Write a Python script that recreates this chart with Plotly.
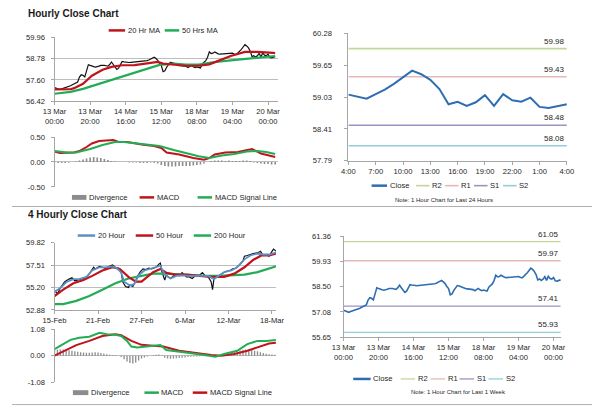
import plotly.graph_objects as go

W, H = 600, 413
FONT = "Liberation Sans, Arial, sans-serif"

# ======================= DATA =======================
# --- Hourly (13 Mar 00:00 -> 20 Mar 04:00), 1 bar per hour ---
HOURLY_TICK_POS = [0, 20, 40, 60, 80, 100, 120]
HOURLY_TICK_TEXT = ["13 Mar<br>00:00", "13 Mar<br>20:00", "14 Mar<br>16:00", "15 Mar<br>12:00",
                    "18 Mar<br>08:00", "19 Mar<br>04:00", "20 Mar<br>00:00"]
hourly_close = [
    57.17, 57.12, 57.08, 57.06, 57.10, 57.13, 57.17, 57.20, 57.23, 57.27,
    57.33, 57.39, 57.44, 57.48, 57.75, 57.88, 57.85, 57.76, 58.10, 58.44,
    58.40, 58.35, 58.33, 58.31, 58.32, 58.36, 58.40, 58.42, 58.40, 58.38,
    58.36, 58.45, 58.59, 58.45, 58.33, 58.18, 58.25, 58.40, 58.62, 58.60,
    58.58, 58.57, 58.56, 58.57, 58.58, 58.59, 58.58, 58.60, 58.61, 58.61,
    58.63, 58.65, 58.67, 58.70, 58.75, 58.80, 58.86, 58.78, 58.68, 58.52,
    58.40, 58.05, 58.10, 58.30, 58.45, 58.57, 58.55, 58.50, 58.46, 58.42,
    58.39, 58.38, 58.37, 58.36, 58.34, 58.28, 58.36, 58.41, 58.33, 58.28,
    58.32, 58.30, 58.26, 58.48, 58.58, 58.66, 58.85, 59.15, 59.06, 59.08,
    59.15, 59.08, 59.04, 59.02, 59.03, 59.04, 59.05, 59.06, 59.08, 59.10,
    59.08, 59.035, 59.00, 59.09, 59.18, 59.29, 59.42, 59.55, 59.48, 59.37,
    59.19, 58.89, 58.94, 58.86, 58.93, 59.07, 58.86, 59.09, 58.97, 58.94,
    59.02, 58.84, 58.82, 58.85, 58.89,
]
ma20hr_idx = [0, 9, 11, 16, 21, 27, 32, 38, 45, 52, 58, 61, 67, 74, 81, 87, 92, 99, 107, 114, 123, 124]
ma20hr_val = [57.07, 57.08, 57.14, 57.38, 57.83, 58.16, 58.32, 58.41, 58.42, 58.52, 58.59, 58.50,
              58.45, 58.38, 58.38, 58.46, 58.65, 58.92, 59.15, 59.15, 59.09, 59.08]
ma50hr_idx = [0, 9, 16, 25, 34, 43, 52, 59, 67, 74, 81, 88, 99, 110, 123, 124]
ma50hr_val = [56.83, 56.93, 57.10, 57.38, 57.69, 57.97, 58.23, 58.43, 58.50, 58.45, 58.45, 58.56,
              58.68, 58.79, 58.92, 58.92]

h_macd_idx = [0, 3, 11, 14, 18, 21, 25, 30, 33, 36, 41, 49, 56, 60, 63, 70, 78, 84, 87, 90, 96, 103,
              108, 111, 116, 121, 124]
h_macd_val = [0.21, 0.18, 0.19, 0.22, 0.30, 0.37, 0.42, 0.43, 0.44, 0.40, 0.40, 0.35, 0.32, 0.28,
              0.19, 0.15, 0.08, 0.045, 0.08, 0.15, 0.19, 0.20, 0.24, 0.26, 0.17, 0.13, 0.10]
h_sig_idx = [0, 7, 12, 20, 27, 34, 39, 47, 52, 59, 67, 74, 81, 87, 94, 101, 108, 114, 119, 124]
h_sig_val = [0.22, 0.19, 0.19, 0.26, 0.34, 0.40, 0.40, 0.37, 0.35, 0.32, 0.24, 0.17, 0.115, 0.08,
             0.13, 0.16, 0.21, 0.22, 0.20, 0.16]
h_div_idx = list(range(0, 125, 2))
h_div_val = [-0.01, -0.02, -0.02, -0.02, -0.01, 0.0, 0.01, 0.03, 0.05, 0.07, 0.09, 0.10, 0.09, 0.08,
             0.06, 0.04, 0.02, 0.01, 0.0, 0.0, 0.0, -0.01, -0.01, -0.01, -0.02, -0.02, -0.02, -0.01,
             -0.02, -0.03, -0.06, -0.08, -0.09, -0.09, -0.09, -0.08, -0.08, -0.08, -0.08, -0.07,
             -0.06, -0.05, -0.03, 0.0, 0.02, 0.03, 0.03, 0.03, 0.02, 0.03, 0.02, 0.02, 0.02, 0.03,
             0.03, 0.02, -0.01, -0.02, -0.03, -0.04, -0.04, -0.05, -0.05]

# --- Last 24 hours ---
H24_TICK_POS = [0, 3, 6, 9, 12, 15, 18, 21, 24]
H24_TICK_TEXT = ["4:00", "7:00", "10:00", "13:00", "16:00", "19:00", "22:00", "1:00", "4:00"]
h24_close = hourly_close[100:125]
h24_levels = {"R2": 59.98, "R1": 59.43, "S1": 58.48, "S2": 58.08}

# --- 1 week levels ---
wk_levels = {"R2": 61.05, "R1": 59.97, "S1": 57.41, "S2": 55.93}

# --- 4-hourly (15 Feb -> 18 Mar) ---
H4_TICK_POS = [0, 30, 60, 90, 120, 150]
H4_TICK_TEXT = ["15-Feb", "21-Feb", "27-Feb", "6-Mar", "12-Mar", "18-Mar"]
h4_close_idx = [0, 2, 4, 6, 7, 10, 12, 14, 16, 18, 21, 23, 25, 27, 28, 31, 33, 35, 37, 40, 42, 44,
                46, 47, 49, 51, 52, 54, 56, 57, 59, 61, 63, 65, 67, 70, 72, 73, 74, 76, 77, 80, 82,
                84, 86, 88, 91, 93, 95, 97, 100, 102, 104, 106, 108, 109, 110, 112, 114, 116, 118,
                121, 123, 125, 127, 130, 131, 133, 135, 137, 140, 142, 144, 146, 148, 150, 151, 153]
h4_close_val = [54.90, 54.54, 55.13, 55.53, 55.79, 56.06, 56.19, 55.89, 55.96, 56.06, 56.19, 56.39,
                56.78, 57.28, 57.11, 57.38, 57.28, 57.18, 57.34, 57.51, 57.25, 57.21, 56.78, 55.79,
                55.30, 55.20, 55.46, 55.30, 55.86, 56.29, 56.78, 57.11, 57.05, 57.18, 57.11, 57.28,
                57.61, 57.71, 56.85, 55.96, 56.45, 56.12, 56.39, 56.52, 56.39, 56.72, 56.29, 56.29,
                56.12, 56.39, 56.45, 56.72, 56.39, 56.29, 55.79, 54.97, 56.12, 56.29, 56.52, 56.72,
                56.85, 56.95, 57.11, 57.18, 57.44, 57.94, 58.43, 58.50, 58.60, 58.70, 58.76, 58.93,
                58.50, 58.60, 58.43, 58.93, 59.16, 58.93]
ma20h_idx = [0, 4, 8, 13, 17, 22, 26, 31, 35, 40, 43, 46, 48, 52, 55, 58, 62, 66, 71, 73, 76, 80,
             84, 88, 93, 97, 102, 106, 110, 113, 117, 122, 126, 131, 135, 140, 144, 148, 153]
ma20h_val = [54.74, 55.13, 55.73, 56.06, 56.06, 56.29, 56.95, 57.28, 57.28, 57.38, 57.18, 56.72,
             55.79, 55.40, 55.53, 56.45, 56.95, 57.11, 57.28, 57.44, 56.52, 56.12, 56.39, 56.45,
             56.39, 56.39, 56.45, 56.39, 56.06, 56.39, 56.78, 56.95, 57.28, 58.10, 58.50, 58.70,
             58.60, 58.60, 58.83]
ma50h_idx = [0, 6, 13, 20, 26, 33, 40, 45, 51, 56, 60, 64, 68, 73, 77, 83, 91, 100, 108, 117, 124,
             131, 137, 143, 148, 153]
ma50h_val = [54.31, 54.97, 55.63, 55.96, 56.39, 56.95, 57.28, 57.11, 56.29, 55.79, 55.79, 56.29,
             56.78, 57.11, 56.72, 56.52, 56.52, 56.39, 56.29, 56.29, 56.62, 57.28, 58.04, 58.53,
             58.50, 58.70]
ma200h_idx = [0, 6, 15, 24, 33, 42, 51, 60, 68, 77, 86, 95, 104, 113, 122, 131, 140, 148, 153]
ma200h_val = [53.48, 53.48, 53.81, 54.31, 54.97, 55.63, 56.12, 56.39, 56.62, 56.62, 56.52, 56.45,
              56.39, 56.39, 56.45, 56.52, 56.78, 57.11, 57.38]

h4_macd_idx = [0, 4, 11, 17, 24, 31, 36, 42, 46, 50, 53, 57, 63, 68, 73, 77, 84, 93, 102, 111, 117,
               126, 133, 140, 146, 153]
h4_macd_val = [0.27, 0.40, 0.64, 0.73, 0.77, 0.93, 0.87, 0.85, 0.80, 0.60, 0.37, 0.33, 0.37, 0.40,
               0.43, 0.23, 0.19, 0.11, 0.04, -0.04, 0.07, 0.20, 0.47, 0.60, 0.60, 0.64]
h4_sig_idx = [0, 6, 15, 24, 33, 42, 46, 53, 60, 68, 75, 86, 97, 108, 115, 124, 133, 142, 148, 153]
h4_sig_val = [0.00, 0.16, 0.43, 0.60, 0.80, 0.87, 0.83, 0.60, 0.44, 0.40, 0.37, 0.20, 0.11, 0.03,
              0.00, 0.07, 0.20, 0.37, 0.49, 0.53]
h4_div_idx = list(range(0, 153, 2))
h4_div_val = [0.22, 0.24, 0.25, 0.25, 0.24, 0.22, 0.20, 0.18, 0.16, 0.14, 0.13, 0.12, 0.12, 0.13,
              0.14, 0.13, 0.11, 0.09, 0.06, 0.04, 0.03, 0.02, 0.0, -0.05, -0.15, -0.24, -0.30,
              -0.32, -0.28, -0.20, -0.12, -0.07, -0.03, 0.0, 0.02, 0.04, 0.05, 0.02, -0.08, -0.12,
              -0.13, -0.12, -0.10, -0.09, -0.08, -0.07, -0.05, -0.04, -0.03, -0.03, -0.02, -0.01,
              -0.01, 0.0, -0.02, -0.04, -0.02, 0.02, 0.05, 0.07, 0.09, 0.12, 0.15, 0.18, 0.21, 0.24,
              0.25, 0.24, 0.22, 0.20, 0.18, 0.14, 0.11, 0.08, 0.06, 0.05, 0.04]

# ======================= STYLE =======================
RED = "#c0141c"
GREEN = "#22ad55"
BLUE20 = "#5b8fc9"
CLOSE_BLUE = "#2f6db3"
GRAY_DIV = "#8c8c8c"
LEVEL_COL = {"R2": "#c4d79b", "R1": "#e6b9b8", "S1": "#9f92c0", "S2": "#92cddc"}
AXIS_COL = "#a6a6a6"
GRID_COL = "#bdbdbd"
TXT = "#262626"


def px(x):
    return x / W


def py(y):
    return 1 - y / H


fig = go.Figure()


def line(xs, ys, color, width, ax):
    fig.add_trace(go.Scatter(x=xs, y=ys, mode="lines", line=dict(color=color, width=width),
                             xaxis="x" + ax, yaxis="y" + ax, showlegend=False, hoverinfo="skip"))


def bars(xs, ys, ax, w):
    fig.add_trace(go.Bar(x=xs, y=ys, width=w, marker=dict(color=GRAY_DIV, line=dict(width=0)),
                         xaxis="x" + ax, yaxis="y" + ax, showlegend=False, hoverinfo="skip"))


hourly_idx = list(range(len(hourly_close)))

# Panel A : hourly close + MAs
line(hourly_idx, hourly_close, "#111111", 1.2, "")
line(ma50hr_idx, ma50hr_val, GREEN, 2.2, "")
line(ma20hr_idx, ma20hr_val, RED, 2.2, "")
# Panel B : hourly MACD
bars(h_div_idx, h_div_val, "2", 0.9)
line(h_macd_idx, h_macd_val, RED, 2, "2")
line(h_sig_idx, h_sig_val, GREEN, 2, "2")
# Panel C : last 24 hours
for k in ["R2", "R1", "S1", "S2"]:
    line([0, 24], [h24_levels[k]] * 2, LEVEL_COL[k], 1.6, "3")
line(list(range(len(h24_close))), h24_close, CLOSE_BLUE, 2, "3")
# Panel D : 4 hourly
line(h4_close_idx, h4_close_val, "#111111", 1.2, "4")
line(ma200h_idx, ma200h_val, GREEN, 2.2, "4")
line(ma50h_idx, ma50h_val, RED, 2.2, "4")
line(ma20h_idx, ma20h_val, BLUE20, 1.8, "4")
# Panel E : 4 hourly MACD
bars(h4_div_idx, h4_div_val, "5", 0.9)
line(h4_sig_idx, h4_sig_val, RED, 2, "5")
line(h4_macd_idx, h4_macd_val, GREEN, 2, "5")
# Panel F : last week
for k in ["R2", "R1", "S1", "S2"]:
    line([0, 124], [wk_levels[k]] * 2, LEVEL_COL[k], 1.3, "6")
line(hourly_idx, hourly_close, CLOSE_BLUE, 1.6, "6")

tickfont = dict(family=FONT, size=7.6, color=TXT)


def xaxis(dom, rng, anchor, tickvals=None, ticktext=None, showline=True):
    d = dict(domain=dom, range=rng, anchor=anchor, showgrid=False, zeroline=False,
             showline=showline, linecolor=AXIS_COL, linewidth=1, tickfont=tickfont,
             fixedrange=True)
    if tickvals is not None:
        d.update(tickmode="array", tickvals=tickvals, ticktext=ticktext, ticks="outside",
                 ticklen=3, tickcolor=AXIS_COL)
    else:
        d.update(showticklabels=False, ticks="")
    return d


def yaxis(dom, rng, vals, texts, anchor, grid=True, standoff=4):
    return dict(domain=dom, range=rng, tickmode="array", tickvals=vals, ticktext=texts,
                showgrid=grid, gridcolor=GRID_COL, gridwidth=1, zeroline=False, showline=True,
                linecolor=AXIS_COL, linewidth=1, ticks="outside", ticklen=3, tickcolor=AXIS_COL,
                tickfont=tickfont, anchor=anchor, fixedrange=True, ticklabelstandoff=standoff)


A_Y = [56.42, 57.60, 58.78, 59.96]
B_Y = [-0.50, 0.00, 0.50]
C_Y = [57.79, 58.41, 59.03, 59.65, 60.28]
D_Y = [52.88, 55.20, 57.51, 59.82]
E_Y = [-1.08, 0.00, 1.08]
F_Y = [55.65, 57.08, 58.50, 59.93, 61.36]

fmt = lambda v: f"{v:.2f}"

fig.update_layout(
    width=W, height=H, margin=dict(l=0, r=0, t=0, b=0),
    paper_bgcolor="white", plot_bgcolor="white", showlegend=False, barmode="overlay",
    font=dict(family=FONT, color=TXT), hovermode=False,
    xaxis=xaxis([px(44), px(275)], [0, 125.5], "y", HOURLY_TICK_POS, HOURLY_TICK_TEXT),
    yaxis=yaxis([py(99.3), py(34)], [A_Y[0], A_Y[-1]], A_Y, [fmt(v) for v in A_Y], "x"),
    xaxis2=xaxis([px(44), px(275)], [0, 125.5], "y2", showline=False),
    yaxis2=yaxis([py(187), py(136)], [-0.5, 0.5], B_Y, [fmt(v) for v in B_Y], "x2"),
    xaxis3=xaxis([px(348), px(574)], [0, 24], "y3", H24_TICK_POS, H24_TICK_TEXT),
    yaxis3=yaxis([py(160), py(30)], [C_Y[0], C_Y[-1]], C_Y, [fmt(v) for v in C_Y], "x3",
                 grid=False, standoff=11),
    xaxis4=xaxis([px(44), px(273)], [0, 152.7], "y4", H4_TICK_POS, H4_TICK_TEXT),
    yaxis4=yaxis([py(312.7), py(244)], [D_Y[0], D_Y[-1]], D_Y, [fmt(v) for v in D_Y], "x4"),
    xaxis5=xaxis([px(44), px(273)], [0, 152.7], "y5", showline=False),
    yaxis5=yaxis([py(386.7), py(332.3)], [-1.08, 1.08], E_Y, [fmt(v) for v in E_Y], "x5"),
    xaxis6=xaxis([px(343), px(568)], [0, 124.3], "y6", HOURLY_TICK_POS, HOURLY_TICK_TEXT),
    yaxis6=yaxis([py(340.7), py(237.3)], [F_Y[0], F_Y[-1]], F_Y, [fmt(v) for v in F_Y], "x6",
                 grid=False, standoff=7),
)

shapes = []
annots = []


def leg_line(x0, x1, y, color, width=2.5):
    shapes.append(dict(type="line", xref="paper", yref="paper", x0=px(x0), x1=px(x1),
                       y0=py(y), y1=py(y), line=dict(color=color, width=width)))


def leg_block(x0, x1, y):
    shapes.append(dict(type="rect", xref="paper", yref="paper", x0=px(x0), x1=px(x1),
                       y0=py(y + 2.5), y1=py(y - 2.5), fillcolor=GRAY_DIV, line=dict(width=0)))


def text(x, y, s, size=7.6, anchor="left", bold=False, color=TXT):
    annots.append(dict(xref="paper", yref="paper", x=px(x), y=py(y), text=s, showarrow=False,
                       xanchor=anchor, yanchor="middle",
                       font=dict(family=FONT, size=size, color=color,
                                 weight="bold" if bold else "normal")))


# titles
text(14, 9.5, "Hourly Close Chart", size=10, bold=True, color="#1a1a1a")
text(14, 215.5, "4 Hourly Close Chart", size=10, bold=True, color="#1a1a1a")

# separators
for yy in [207, 409.5]:
    shapes.append(dict(type="line", xref="paper", yref="paper", x0=0, x1=1, y0=py(yy), y1=py(yy),
                       line=dict(color="#b0b0b0", width=1)))

# legend A
leg_line(100, 117, 27, RED); text(117.5, 27, "20 Hr MA")
leg_line(158, 173, 27, GREEN); text(173.5, 27, "50 Hrs MA")
# legend B
leg_block(62, 77, 197.7); text(77.5, 197.7, "Divergence")
leg_line(132, 147, 197.7, RED); text(147.5, 197.7, "MACD")
leg_line(192, 207, 197.7, GREEN); text(207.5, 197.7, "MACD Signal Line")
# legend C
leg_line(372, 388, 185.7, CLOSE_BLUE); text(388.5, 185.7, "Close")
for k, x0 in zip(["R2", "R1", "S1", "S2"], [418, 448, 478, 508]):
    leg_line(x0, x0 + 14, 185.7, LEVEL_COL[k], 1.6); text(x0 + 14.5, 185.7, k)
text(446.7, 200, "Note: 1 Hour Chart for Last 24 Hours", size=6, anchor="center")
for k, v in h24_levels.items():
    annots.append(dict(xref="x3", yref="y3", x=24, y=v, text=f"{v:.2f}", showarrow=False,
                       xanchor="right", yanchor="bottom", yshift=1,
                       font=dict(family=FONT, size=8, color=TXT)))
# legend D
leg_line(68, 86, 236.7, BLUE20); text(86.5, 236.7, "20 Hour")
leg_line(128, 146, 236.7, RED); text(146.5, 236.7, "50 Hour")
leg_line(188, 206, 236.7, GREEN); text(206.5, 236.7, "200 Hour")
# legend E
leg_block(63, 79, 397.3); text(79.5, 397.3, "Divergence")
leg_line(137, 152, 397.3, GREEN); text(152.5, 397.3, "MACD")
leg_line(187, 202, 397.3, RED); text(202.5, 397.3, "MACD Signal Line")
# legend F
leg_line(353, 371, 383.3, CLOSE_BLUE); text(371.5, 383.3, "Close")
for k, x0 in zip(["R2", "R1", "S1", "S2"], [402, 433, 463, 493]):
    leg_line(x0, x0 + 15, 383.3, LEVEL_COL[k], 1.3); text(x0 + 15.5, 383.3, k)
text(462, 396.7, "Note: 1 Hour Chart for Last 1 Week", size=6, anchor="center")
for k, v in wk_levels.items():
    annots.append(dict(xref="x6", yref="y6", x=124, y=v, text=f"{v:.2f}", showarrow=False,
                       xanchor="right", yanchor="bottom", yshift=1,
                       font=dict(family=FONT, size=8, color=TXT)))

fig.update_layout(shapes=shapes, annotations=annots)
fig.write_html("out.html", config={"displayModeBar": False, "staticPlot": True},
               post_script="document.body.style.margin='0';document.body.style.overflow='hidden';")
